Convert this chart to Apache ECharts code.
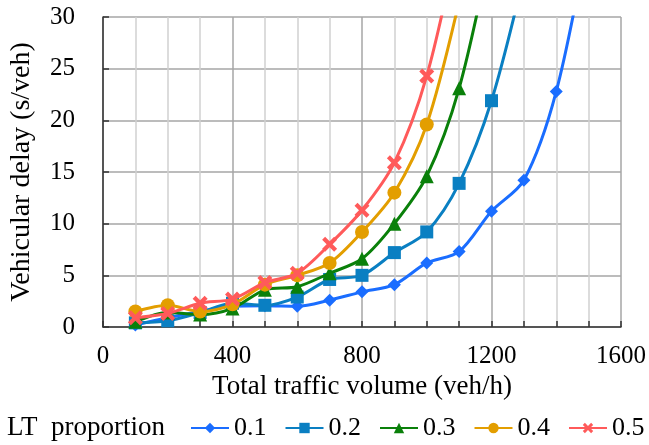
<!DOCTYPE html>
<html>
<head>
<meta charset="utf-8">
<script src="https://cdn.jsdelivr.net/npm/echarts@6/dist/echarts.min.js"></script>
<style>html,body{margin:0;padding:0;background:#fff}#c{width:649px;height:445px}</style>
</head>
<body>
<div id="c"></div>
<script>
// Total traffic volume (veh/h)
var volumes = [100, 200, 300, 400, 500, 600, 700, 800, 900, 1000, 1100, 1200, 1300, 1400, 1500];
// Vehicular delay (s/veh) per LT proportion (last point of each lies above the 30 s/veh axis limit)
var lt01 = [0.2, 0.9, 1.5, 2.0, 2.05, 2.0, 2.6, 3.4, 4.1, 6.2, 7.3, 11.2, 14.2, 22.8, 38];
var lt02 = [0.4, 0.6, 1.4, 2.3, 2.1, 2.9, 4.6, 5.0, 7.2, 9.2, 13.9, 21.9, 34];
var lt03 = [0.5, 1.4, 1.2, 1.8, 3.6, 3.9, 5.2, 6.6, 10.0, 14.6, 23.1, 37];
var lt04 = [1.5, 2.1, 1.5, 2.2, 4.1, 5.0, 6.2, 9.2, 13.0, 19.6, 31.5];
var lt05 = [0.9, 1.3, 2.3, 2.7, 4.3, 5.2, 8.0, 11.3, 15.9, 24.3, 38];
var seriesNames = ['0.1', '0.2', '0.3', '0.4', '0.5'];
var xTickLabels = [0, 400, 800, 1200, 1600];
var yTickLabels = [0, 5, 10, 15, 20, 25, 30];

var FONT = 'Liberation Serif';
var colors = ['#1a6dff', '#0a7fc2', '#0a800a', '#e39e00', '#ff5a5a'];
var symbols = ['diamond', 'rect', 'triangle', 'circle',
  'path://M2,0 L5,3 L8,0 L10,2 L7,5 L10,8 L8,10 L5,7 L2,10 L0,8 L3,5 L0,2 Z'];
var sizes = [13, 13, 14, 14, 15];
var allData = [lt01, lt02, lt03, lt04, lt05];

function pairs(vals) {
  var out = [];
  for (var i = 0; i < vals.length; i++) out.push([volumes[i], vals[i]]);
  return out;
}

var series = allData.map(function (vals, k) {
  return {
    name: seriesNames[k],
    type: 'line',
    data: pairs(vals),
    smooth: 0.3,
    clip: true,
    symbol: symbols[k],
    symbolSize: sizes[k],
    showAllSymbol: true,
    lineStyle: { color: colors[k], width: 3 },
    itemStyle: { color: colors[k] },
    emphasis: { disabled: true },
    z: 2 + k
  };
});

var chart = echarts.init(document.getElementById('c'), null, { renderer: 'canvas' });
chart.setOption({
  animation: false,
  backgroundColor: '#ffffff',
  textStyle: { fontFamily: FONT, color: '#000' },
  grid: { left: 101, right: 28, top: 17, bottom: 118, containLabel: false },
  graphic: [{
    type: 'text', left: 7, top: 414,
    style: { text: 'LT  proportion', fontFamily: FONT, fontSize: 27, fill: '#000' }
  }],
  legend: {
    left: 190, top: 415, padding: 0,
    itemWidth: 38, itemHeight: 13, itemGap: 18,
    textStyle: { fontFamily: FONT, fontSize: 26, color: '#000' },
    data: seriesNames
  },
  xAxis: {
    type: 'value', min: 0, max: 1600, interval: 100,
    name: 'Total traffic volume (veh/h)', nameLocation: 'middle', nameGap: 45,
    nameTextStyle: { fontFamily: FONT, fontSize: 27, color: '#000' },
    axisLine: { show: true, onZero: false, lineStyle: { color: '#333', width: 1.5 } },
    axisTick: { show: true, inside: true, length: 6, lineStyle: { color: '#333', width: 1.5 } },
    axisLabel: {
      fontFamily: FONT, fontSize: 25, color: '#000', margin: 17,
      formatter: function (v) { return xTickLabels.indexOf(v) >= 0 ? String(v) : ''; }
    },
    splitLine: { show: true, lineStyle: { color: ['#a6a6a6', '#d0d0d0', '#d0d0d0', '#d0d0d0'], width: 1.5 } }
  },
  yAxis: {
    type: 'value', min: 0, max: 30, interval: 5,
    name: 'Vehicular delay (s/veh)', nameLocation: 'middle', nameGap: 67, nameRotate: 90,
    nameTextStyle: { fontFamily: FONT, fontSize: 28, color: '#000' },
    axisLine: { show: true, lineStyle: { color: '#333', width: 1.5 } },
    axisTick: { show: true, inside: true, length: 6, lineStyle: { color: '#333', width: 1.5 } },
    axisLabel: {
      fontFamily: FONT, fontSize: 25, color: '#000', margin: 28,
      formatter: function (v) { return yTickLabels.indexOf(v) >= 0 ? String(v) : ''; }
    },
    splitLine: { show: true, lineStyle: { color: '#a6a6a6', width: 1.5 } }
  },
  series: series
});
</script>
</body>
</html>
